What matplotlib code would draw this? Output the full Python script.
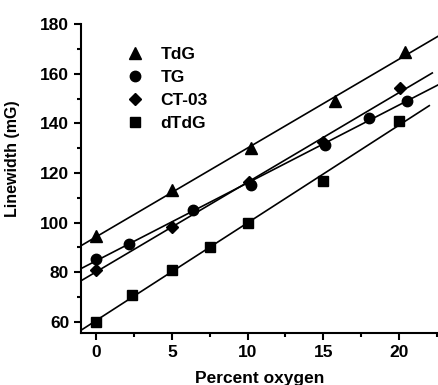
import matplotlib
matplotlib.use('Agg')
import matplotlib.pyplot as plt
import numpy as np
from matplotlib.ticker import MultipleLocator

plt.rcParams['font.family'] = ['Liberation Sans', 'DejaVu Sans']
plt.rcParams['font.weight'] = 'bold'

# data
tdg_x = [0, 5, 10.2, 15.8, 20.4]
tdg_y = [94.5, 113, 130, 149, 169]
tg_x = [0, 2.2, 6.4, 10.2, 15.1, 18.0, 20.5]
tg_y = [85.3, 91.2, 105.3, 115.2, 131.3, 142.2, 149.2]
ct_x = [0, 5, 10.1, 15.0, 20.1]
ct_y = [80.8, 98.2, 116.4, 132.5, 154.3]
dtdg_x = [0, 2.4, 5.0, 7.5, 10.0, 15.0, 20.0]
dtdg_y = [60, 70.9, 80.8, 90, 100, 117, 141]

series = [
    ('TdG', tdg_x, tdg_y, '^', 8.5, 22.6),
    ('TG', tg_x, tg_y, 'o', 7.5, 22.6),
    ('CT-03', ct_x, ct_y, 'D', 6.5, 22.2),
    ('dTdG', dtdg_x, dtdg_y, 's', 7, 22.0),
]

fig = plt.figure(figsize=(4.39, 3.85), dpi=100)
ax = fig.add_axes([0.1845, 0.135, 0.814, 0.802])

for name, x, y, m, ms, xend in series:
    ax.plot(x, y, linestyle='none', marker=m, markersize=ms, color='black', label=name)
    # linear fit line
    k, b = np.polyfit(x, y, 1)
    xx = np.array([-1.5, xend])
    ax.plot(xx, k * xx + b, color='black', linewidth=1.2)

ax.set_xlim(-1, 22.6)
ax.set_ylim(55.5, 180)
ax.xaxis.set_major_locator(MultipleLocator(5))
ax.xaxis.set_minor_locator(MultipleLocator(2.5))
ax.yaxis.set_major_locator(MultipleLocator(20))
ax.yaxis.set_minor_locator(MultipleLocator(10))
ax.tick_params(which='major', length=5, width=1.5, labelsize=12.5, direction='out')
ax.tick_params(which='minor', length=3, width=1.5, direction='out')
for s in ['top', 'right']:
    ax.spines[s].set_visible(False)
for s in ['left', 'bottom']:
    ax.spines[s].set_linewidth(1.5)

ax.set_xlabel('Percent oxygen', fontsize=12.5, fontweight='bold', labelpad=8)
ax.set_ylabel('Linewidth (mG)', fontsize=11.5, fontweight='bold')
ax.yaxis.set_label_coords(-0.171, 0.566)

leg = ax.legend(loc='upper left', bbox_to_anchor=(0.07, 0.977), frameon=False,
                prop={'size': 12.5, 'weight': 'bold'}, handletextpad=0.75,
                labelspacing=0.45, handlelength=1.5)

fig.savefig('out.png', dpi=100)
